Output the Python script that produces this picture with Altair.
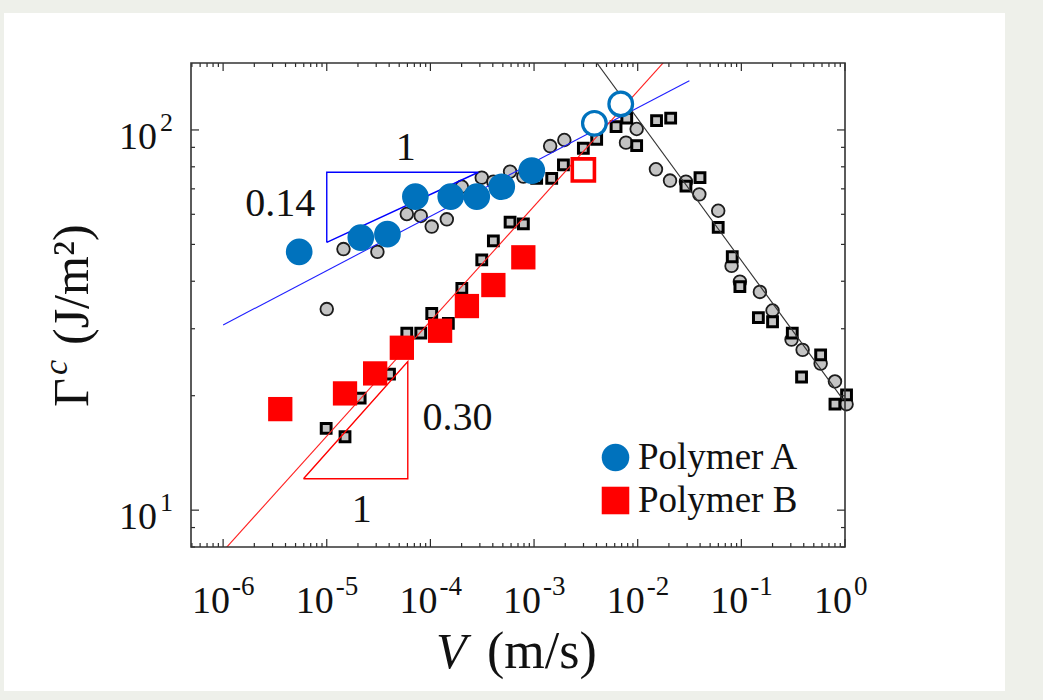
import altair as alt
import pandas as pd

FONT = "Liberation Serif"
W, H = 654, 484
XMIN, XMAX = 4.9e-7, 1.0
YMIN, YMAX = 8.0, 150.0

# ---------------- data (V in m/s, Gamma^c in J/m^2) ----------------
A_V = [5.42e-6, 2.13e-5, 3.85e-5, 7.16e-5, 1.57e-4, 2.80e-4, 4.88e-4, 9.51e-4]
A_G = [47.8, 52.1, 53.2, 66.8, 66.8, 66.8, 70.9, 78.2]
A_open_V = [3.82e-3, 6.86e-3]
A_open_G = [104.1, 117.1]

B_V = [3.56e-6, 1.50e-5, 2.93e-5, 5.30e-5, 1.24e-4, 2.25e-4, 4.05e-4, 7.88e-4]
B_G = [18.44, 20.28, 22.89, 26.74, 29.64, 34.42, 39.09, 46.24]
B_open_V = [2.99e-3]
B_open_G = [78.5]

gc_V = [1.00e-5, 1.45e-5, 3.08e-5, 5.92e-5, 8.07e-5, 1.03e-4, 1.44e-4, 2.01e-4,
        3.13e-4, 4.05e-4, 5.87e-4, 7.89e-4, 1.43e-3, 1.96e-3, 7.71e-3, 9.77e-3,
        1.50e-2, 2.05e-2, 2.92e-2, 3.93e-2, 5.98e-2, 8.05e-2, 9.68e-2, 0.151,
        0.200, 0.305, 0.390, 0.582, 0.800, 1.035]
gc_G = [33.8, 48.6, 47.8, 60.1, 59.4, 55.7, 58.2, 70.9,
        74.9, 73.1, 77.7, 75.4, 90.7, 94.1, 92.6, 100.6,
        78.8, 73.6, 73.1, 67.7, 61.3, 43.9, 39.9, 37.5,
        33.5, 28.1, 26.4, 24.3, 21.8, 19.0]

gs_V = [9.87e-6, 1.50e-5, 2.10e-5, 4.03e-5, 5.92e-5, 8.07e-5, 1.03e-4, 1.49e-4,
        2.01e-4, 3.13e-4, 4.05e-4, 5.87e-4, 7.89e-4, 1.06e-3, 1.48e-3, 1.92e-3,
        2.99e-3, 4.02e-3, 6.18e-3, 7.84e-3, 9.77e-3, 1.52e-2, 2.08e-2, 2.92e-2,
        3.99e-2, 5.98e-2, 8.17e-2, 9.68e-2, 0.146, 0.200, 0.310, 0.381,
        0.582, 0.800, 1.035]
gs_G = [16.4, 15.6, 19.7, 22.8, 29.2, 29.2, 32.9, 31.0,
        38.3, 45.5, 51.1, 57.2, 56.6, 74.6, 74.6, 80.9,
        89.5, 94.5, 102.0, 107.4, 90.9, 105.8, 107.4, 71.2,
        74.9, 55.4, 46.4, 38.7, 32.1, 31.3, 29.2, 22.4,
        25.6, 19.0, 20.1]

# fitted power-law lines (end points)
blue_fit_V = [1.0e-6, 3.15e-2]
blue_fit_G = [30.7, 134.8]
red_fit_V = [1.0e-6, 2.0e-2]
red_fit_G = [7.8, 156.0]
black_fit_V = [3.8e-3, 0.962]
black_fit_G = [153.5, 19.5]

# slope triangles
blue_tri_V = [1e-5, 1e-5, 2.9e-4, 1e-5]
blue_tri_G = [50.6, 77.4, 77.4, 50.6]
red_tri_V = [5.96e-6, 6.05e-5, 6.05e-5, 5.96e-6]
red_tri_G = [12.1, 12.1, 24.6, 12.1]

ann_text = ["1", "0.14", "0.30", "1"]
ann_V = [5.77e-5, 3.56e-6, 1.83e-4, 2.17e-5]
ann_G = [89.9, 63.9, 17.5, 10.0]

legend_labels = ["Polymer A", "Polymer B"]

x_major = [1e-6, 1e-5, 1e-4, 1e-3, 1e-2, 1e-1, 1e0]
x_exp = ["-6", "-5", "-4", "-3", "-2", "-1", "0"]
y_major = [10.0, 100.0]
y_exp = ["1", "2"]
minor_mult = [2, 3, 4, 5, 6, 7, 8, 9]
x_decades = [-7, -6, -5, -4, -3, -2, -1]
y_decades = [0, 1, 2]

# ---------------- helpers ----------------
xs = alt.Scale(type="log", domain=[XMIN, XMAX])
ys = alt.Scale(type="log", domain=[YMIN, YMAX])


def X(f):
    return alt.X(f, type="quantitative", scale=xs, axis=None)


def Y(f):
    return alt.Y(f, type="quantitative", scale=ys, axis=None)


def df_xy(v, g):
    return pd.DataFrame({"V": v, "G": g, "i": list(range(len(v)))})


x_minor = [m * 10.0 ** k for k in x_decades for m in minor_mult if XMIN <= m * 10.0 ** k <= XMAX]
y_minor = [m * 10.0 ** k for k in y_decades for m in minor_mult if YMIN <= m * 10.0 ** k <= YMAX]

TICK = "#2a2a2a"
one = pd.DataFrame({"a": [0]})

panel = alt.Chart(one).mark_rect(color="white").encode(
    x=alt.value(-187), x2=alt.value(814), y=alt.value(-50), y2=alt.value(628))

gray_c = alt.Chart(df_xy(gc_V, gc_G)).mark_point(
    shape="circle", filled=True, fill="#c4c4c4", stroke="#1c1c1c", strokeWidth=1.8,
    size=160, opacity=1).encode(x=X("V"), y=Y("G"))
gray_s = alt.Chart(df_xy(gs_V, gs_G)).mark_point(
    shape="square", filled=True, fill="#c4c4c4", stroke="#000000", strokeWidth=3.0,
    size=96, opacity=1).encode(x=X("V"), y=Y("G"))

blue_line = alt.Chart(df_xy(blue_fit_V, blue_fit_G)).mark_line(
    clip=True, color="#2020ff", strokeWidth=1.1).encode(x=X("V"), y=Y("G"))
red_line = alt.Chart(df_xy(red_fit_V, red_fit_G)).mark_line(
    clip=True, color="#ff2020", strokeWidth=1.1).encode(x=X("V"), y=Y("G"))
black_line = alt.Chart(df_xy(black_fit_V, black_fit_G)).mark_line(
    clip=True, color="#333333", strokeWidth=1.1).encode(x=X("V"), y=Y("G"))

blue_tri = alt.Chart(df_xy(blue_tri_V, blue_tri_G)).mark_line(
    color="#0000ff", strokeWidth=1.4).encode(x=X("V"), y=Y("G"), order="i:Q")
red_tri = alt.Chart(df_xy(red_tri_V, red_tri_G)).mark_line(
    color="#ff0000", strokeWidth=1.4).encode(x=X("V"), y=Y("G"), order="i:Q")

ann = alt.Chart(pd.DataFrame({"V": ann_V, "G": ann_G, "t": ann_text})).mark_text(
    font=FONT, fontSize=40, color="#111111", align="center", baseline="middle").encode(
    x=X("V"), y=Y("G"), text="t:N")

leg = alt.Legend(title=None, orient="none", legendX=406, legendY=376, padding=0,
                 labelFont=FONT, labelFontSize=37, labelColor="#111111", labelLimit=400,
                 symbolSize=760, symbolStrokeWidth=0, labelOffset=4, rowPadding=5)
color = alt.Color("polymer:N", scale=alt.Scale(domain=legend_labels, range=["#0072BD", "#FF0000"]),
                  legend=leg)
shape = alt.Shape("polymer:N", scale=alt.Scale(domain=legend_labels, range=["circle", "square"]),
                  legend=leg)

dfA = df_xy(A_V, A_G)
dfA["polymer"] = legend_labels[0]
dfB = df_xy(B_V, B_G)
dfB["polymer"] = legend_labels[1]

ptA = alt.Chart(dfA).mark_point(filled=True, opacity=1, size=713, strokeWidth=0).encode(
    x=X("V"), y=Y("G"), color=color, shape=shape)
ptB = alt.Chart(dfB).mark_point(filled=True, opacity=1, size=590, strokeWidth=0).encode(
    x=X("V"), y=Y("G"), color=color, shape=shape)
openA = alt.Chart(df_xy(A_open_V, A_open_G)).mark_point(
    shape="circle", filled=True, fill="white", stroke="#0072BD", strokeWidth=3.2,
    size=560, opacity=1).encode(x=X("V"), y=Y("G"))
openB = alt.Chart(df_xy(B_open_V, B_open_G)).mark_point(
    shape="square", filled=True, fill="white", stroke="#FF0000", strokeWidth=3.6,
    size=490, opacity=1).encode(x=X("V"), y=Y("G"))

# ---------------- inward ticks and frame ----------------
def xticks(vals, length):
    d = pd.DataFrame({"V": vals})
    b = alt.Chart(d).mark_rule(color=TICK, strokeWidth=1.2).encode(
        x=X("V"), y=alt.value(H), y2=alt.value(H - length))
    t = alt.Chart(d).mark_rule(color=TICK, strokeWidth=1.2).encode(
        x=X("V"), y=alt.value(0), y2=alt.value(length))
    return [b, t]


def yticks(vals, length):
    d = pd.DataFrame({"G": vals})
    l = alt.Chart(d).mark_rule(color=TICK, strokeWidth=1.2).encode(
        y=Y("G"), x=alt.value(0), x2=alt.value(length))
    r = alt.Chart(d).mark_rule(color=TICK, strokeWidth=1.2).encode(
        y=Y("G"), x=alt.value(W), x2=alt.value(W - length))
    return [l, r]


ticks = xticks(x_major, 8) + xticks(x_minor, 4) + yticks(y_major, 8) + yticks(y_minor, 4)

frame = alt.Chart(one).mark_rect(fillOpacity=0, stroke="#333333", strokeWidth=1.6).encode(
    x=alt.value(0), x2=alt.value(W), y=alt.value(0), y2=alt.value(H))

# ---------------- tick labels ----------------
xl = pd.DataFrame({"V": x_major, "e": x_exp})
x_base = alt.Chart(xl).mark_text(font=FONT, fontSize=38, align="right", baseline="alphabetic",
                                 dx=7, color="#111111").encode(
    x=X("V"), y=alt.value(H + 66), text=alt.value("10"))
x_sup = alt.Chart(xl).mark_text(font=FONT, fontSize=27, align="left", baseline="alphabetic",
                                dx=9, color="#111111").encode(
    x=X("V"), y=alt.value(H + 48), text="e:N")

yl = pd.DataFrame({"G": y_major, "e": y_exp})
y_base = alt.Chart(yl).mark_text(font=FONT, fontSize=38, align="right", baseline="alphabetic",
                                 dy=19, color="#111111").encode(
    y=Y("G"), x=alt.value(-34), text=alt.value("10"))
y_sup = alt.Chart(yl).mark_text(font=FONT, fontSize=26, align="left", baseline="alphabetic",
                                dy=1, color="#111111").encode(
    y=Y("G"), x=alt.value(-31), text="e:N")

# ---------------- axis titles ----------------
xt_V = alt.Chart(one).mark_text(font=FONT, fontSize=50, fontStyle="italic", align="left",
                                baseline="alphabetic", color="#111111").encode(
    x=alt.value(245), y=alt.value(605), text=alt.value("V"))
xt_rest = alt.Chart(one).mark_text(font=FONT, fontSize=52, align="left",
                                   baseline="alphabetic", color="#111111").encode(
    x=alt.value(296), y=alt.value(605), text=alt.value("(m/s)"))

yt_G = alt.Chart(one).mark_text(font=FONT, fontSize=50, angle=270, align="left",
                                baseline="alphabetic", color="#111111").encode(
    x=alt.value(-103), y=alt.value(344), text=alt.value("Γ"))
yt_c = alt.Chart(one).mark_text(font=FONT, fontSize=34, fontStyle="italic", angle=270, align="left",
                                baseline="alphabetic", color="#111111").encode(
    x=alt.value(-124), y=alt.value(312), text=alt.value("c"))
yt_rest = alt.Chart(one).mark_text(font=FONT, fontSize=50, angle=270, align="left",
                                   baseline="alphabetic", color="#111111").encode(
    x=alt.value(-103), y=alt.value(282), text=alt.value("(J/m²)"))

layers = [panel, gray_c, gray_s, blue_line, red_line, black_line, blue_tri, red_tri, ann,
          ptA, ptB, openA, openB] + ticks + [frame, x_base, x_sup, y_base, y_sup,
                                             xt_V, xt_rest, yt_G, yt_c, yt_rest]

chart = alt.layer(*layers).properties(
    width=W, height=H,
    padding={"left": 191, "top": 63, "right": 198, "bottom": 153},
    autosize=alt.AutoSizeParams(type="none"),
    background="#eef0ea",
).configure_view(stroke="transparent")

chart.save("out.html", embed_options={"renderer": "svg", "actions": False})
